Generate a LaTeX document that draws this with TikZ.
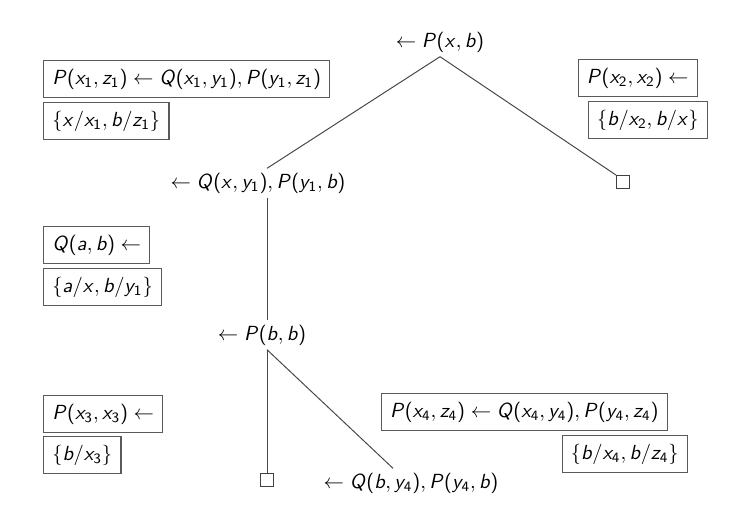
\documentclass[tikz,border=0pt]{standalone}
\usepackage{amssymb}
\usetikzlibrary{calc,positioning}
\definecolor{edgegray}{RGB}{70,70,70}
\definecolor{boxgray}{RGB}{90,90,90}

% sans serif math letters, digits and parentheses
\DeclareSymbolFont{sfslanted}{OT1}{cmss}{m}{sl}
\DeclareSymbolFont{sfupright}{OT1}{cmss}{m}{n}
\DeclareMathSymbol{P}{\mathalpha}{sfslanted}{`P}
\DeclareMathSymbol{Q}{\mathalpha}{sfslanted}{`Q}
\DeclareMathSymbol{a}{\mathalpha}{sfslanted}{`a}
\DeclareMathSymbol{b}{\mathalpha}{sfslanted}{`b}
\DeclareMathSymbol{x}{\mathalpha}{sfslanted}{`x}
\DeclareMathSymbol{y}{\mathalpha}{sfslanted}{`y}
\DeclareMathSymbol{z}{\mathalpha}{sfslanted}{`z}
\DeclareMathSymbol{1}{\mathalpha}{sfupright}{`1}
\DeclareMathSymbol{2}{\mathalpha}{sfupright}{`2}
\DeclareMathSymbol{3}{\mathalpha}{sfupright}{`3}
\DeclareMathSymbol{4}{\mathalpha}{sfupright}{`4}
\DeclareMathSymbol{(}{\mathopen}{sfupright}{"28}
\DeclareMathSymbol{)}{\mathclose}{sfupright}{"29}

\begin{document}
\begin{tikzpicture}[
  x=0.018cm, y=-0.018cm,
  every node/.style={font=\sffamily},
  goal/.style={inner sep=2pt, scale=1.045},
  subst/.style={draw=boxgray, line width=0.6pt, inner xsep=4.3pt, inner ysep=4pt, minimum height=16.5pt, scale=1.045},
  empty/.style={draw=black!75, line width=0.5pt, minimum size=6.5pt, inner sep=0pt},
  branch/.style={edgegray, line width=0.5pt},
]
\useasboundingbox (0,0) rectangle (740,520);

% ===== goals of the tree =====
\node[goal] (root) at (440,42)  {$\leftarrow P(x,b)$};
\node[goal] (g1)   at (258,183) {$\leftarrow Q(x,y_1), P(y_1,b)$};
\node[goal] (g2)   at (262,335) {$\leftarrow P(b,b)$};
\node[goal] (g3)   at (411,483) {$\leftarrow Q(b,y_4), P(y_4,b)$};

% empty clauses
\node[empty] (e1) at (623,182) {};
\node[empty] (e2) at (267,480) {};

% column of the vertical branches
\coordinate (col) at (267,0);

% ===== branches =====
\draw[branch] (root.south) -- (g1.north -| col);
\draw[branch] (root.south) -- (e1.north west);
\draw[branch] (g1.south -| col) -- (g2.north -| col);
\draw[branch] (g2.south -| col) -- (e2.north);
\draw[branch] (g2.south -| col) -- ($(g3.north)+(-18,0)$);

% ===== clauses and substitutions =====
\node[subst, anchor=west] (c1) at (43,79)  {$P(x_1,z_1) \leftarrow Q(x_1,y_1), P(y_1,z_1)$};
\node[subst, anchor=west] (s1) at (43,121) {$\{x/x_1, b/z_1\}$};

\node[subst, anchor=east] (c2) at (698,78)  {$P(x_2,x_2) \leftarrow$};
\node[subst, anchor=east] (s2) at (708,120) {$\{b/x_2, b/x\}$};

\node[subst, anchor=west] (c3) at (43,245) {$Q(a,b) \leftarrow$};
\node[subst, anchor=west] (s3) at (43,287) {$\{a/x, b/y_1\}$};

\node[subst, anchor=west] (c4) at (43,414) {$P(x_3,x_3) \leftarrow$};
\node[subst, anchor=west] (s4) at (43,455) {$\{b/x_3\}$};

\node[subst, anchor=east] (c5) at (668,412) {$P(x_4,z_4) \leftarrow Q(x_4,y_4), P(y_4,z_4)$};
\node[subst, anchor=east] (s5) at (688,454) {$\{b/x_4, b/z_4\}$};

\end{tikzpicture}
\end{document}
